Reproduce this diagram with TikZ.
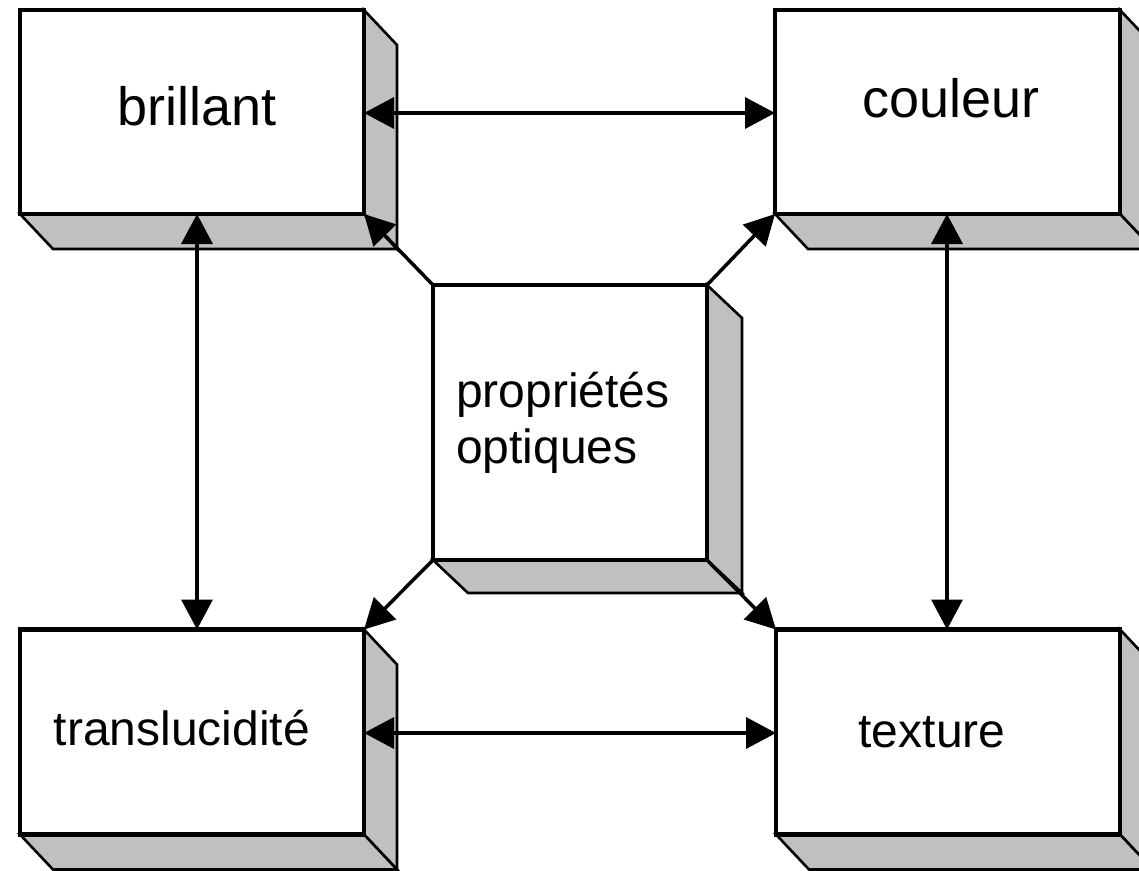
\documentclass[tikz,border=0pt]{standalone}
\usepackage{fontspec}
\setmainfont{Liberation Sans}
\usetikzlibrary{arrows.meta,backgrounds,calc}
\definecolor{sidegray}{HTML}{C0C0C0}
\tikzset{
  front/.style={rectangle, draw=black, line width=4.5pt, fill=white, outer sep=0pt, inner sep=0pt},
  side/.style={draw=black, line width=2.6pt, fill=sidegray, line join=miter},
  conn/.style={line width=3.5pt, draw=black},
  tip/.tip={Triangle[length=30pt,width=31pt]},
  lbl/.style={font=\fontsize{48}{56}\selectfont, anchor=base, inner sep=0pt},
  lblbig/.style={font=\fontsize{54}{62}\selectfont, anchor=base, inner sep=0pt}
}
\newcommand{\boxsides}[3]{%
  \begin{pgfonlayer}{background}
    \path[side] (#1.north east) -- ++(#2,#3) -- ($(#1.south east)+(#2,#3)$) -- (#1.south east) -- cycle;
    \path[side] (#1.south west) -- (#1.south east) -- ($(#1.south east)+(#2,#3)$) -- ($(#1.south west)+(#2,#3)$) -- cycle;
  \end{pgfonlayer}}
\begin{document}
\begin{tikzpicture}[x=1pt,y=-1pt]
  \clip (0,0) rectangle (1139,870);
  \begin{pgfonlayer}{background}
    \fill[white] (0,0) rectangle (1139,870);
  \end{pgfonlayer}
  % boxes
  \node[front, minimum width=344pt, minimum height=204pt] (b) at (192,112) {};
  \node[front, minimum width=345pt, minimum height=204pt] (c) at (947.5,112) {};
  \node[front, minimum width=344pt, minimum height=205pt] (tr) at (192,732) {};
  \node[front, minimum width=344pt, minimum height=205pt] (t) at (948,732) {};
  \node[front, minimum width=274pt, minimum height=275pt] (p) at (570,422.5) {};
  \boxsides{b}{33}{35}
  \boxsides{c}{33}{35}
  \boxsides{tr}{33}{35}
  \boxsides{t}{33}{35}
  \boxsides{p}{35}{33}
  % labels
  \node[lblbig] (lb) at (197,125) {brillant};
  \node[lblbig] (lc) at (951,117) {couleur};
  \node[lbl] (ltr) at (182,745) {translucidité};
  \node[lbl] (lt) at (932,747) {texture};
  \node[lbl, anchor=base west] (lp1) at (456,407) {propriétés};
  \node[lbl, anchor=base west] (lp2) at (456,463) {optiques};
  % connectors
  \draw[conn, tip-tip] (b.east |- 0,113) -- (c.west |- 0,113);
  \draw[conn, tip-tip] (tr.east |- 0,733) -- (t.west |- 0,733);
  \draw[conn, tip-tip] (b.south -| 197,0) -- (tr.north -| 197,0);
  \draw[conn, tip-tip] (c.south -| 947,0) -- (t.north -| 947,0);
  \draw[conn, -tip] (p.north west) -- (b.south east);
  \draw[conn, -tip] (p.north east) -- (c.south west);
  \draw[conn, -tip] (p.south west) -- (tr.north east);
  \draw[conn, -tip] (p.south east) -- (t.north west);
\end{tikzpicture}
\end{document}
